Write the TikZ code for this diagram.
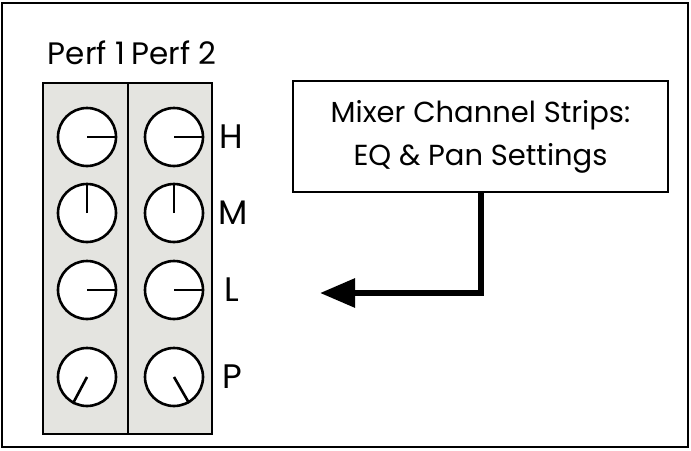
\documentclass[tikz,border=0pt]{standalone}
\usepackage{fontspec}
\setmainfont{Poppins}
\usetikzlibrary{arrows.meta}
\definecolor{panelgrey}{RGB}{228,228,224}
\tikzset{
  thinline/.style={line width=2.6pt},
  knob/.style={circle, draw, thinline, fill=white, minimum size=58pt, inner sep=0pt},
  ind/.style={thinline},
  lbl/.style={font=\fontsize{34}{36}\selectfont, inner sep=0pt},
  perf/.style={font=\fontsize{31}{34}\selectfont, inner sep=0pt},
  mixbox/.style={draw, thinline, minimum width=375pt, minimum height=111pt, align=center, font=\fontsize{29}{43}\selectfont},
  conn/.style={line width=6pt, -{Triangle[length=35pt,width=28pt]}}
}
\begin{document}
\begin{tikzpicture}[x=1pt,y=-1pt]
\useasboundingbox (0,0) rectangle (691,450);
\fill[white] (0,0) rectangle (691,450);
\draw[thinline] (2,3) rectangle (688,447);
% panel
\draw[thinline, fill=panelgrey] (43,83) rectangle (128,434);
\draw[thinline, fill=panelgrey] (128,83) rectangle (212,434);
% column titles
\node[perf] (p1) at (86.5,53) {Perf 1};
\node[perf] (p2) at (174,53) {Perf 2};
% knobs
\foreach \c/\x in {1/87,2/174}{
  \node[knob] (kh\c) at (\x,137) {};
  \node[knob] (km\c) at (\x,213) {};
  \node[knob] (kl\c) at (\x,290) {};
  \node[knob] (kp\c) at (\x,377) {};
  \draw[ind] (kh\c.center) -- (kh\c.0);
  \draw[ind] (km\c.center) -- (km\c.90);
  \draw[ind] (kl\c.center) -- (kl\c.0);
}
\draw[ind] (kp1.center) -- (kp1.242);
\draw[ind] (kp2.center) -- (kp2.300);
% row labels
\node[lbl] (lh) at (231,137) {H};
\node[lbl] (lm) at (233,213) {M};
\node[lbl] (ll) at (232,290) {L};
\node[lbl] (lp) at (232,377) {P};
% mixer box
\node[mixbox] (mix) at (480.5,136.5) {Mixer Channel Strips:\\EQ \& Pan Settings};
\coordinate (tip) at (320,293);
\draw[conn] (mix.south) |- (tip);
\end{tikzpicture}
\end{document}
